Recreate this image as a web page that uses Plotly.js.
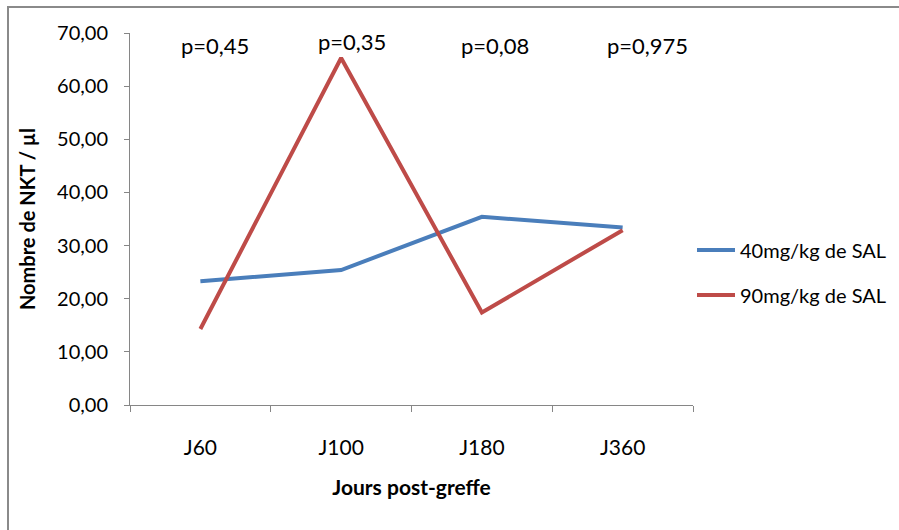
<!DOCTYPE html>
<html>
<head>
<meta charset="utf-8">
<script src="https://cdn.plot.ly/plotly-3.0.1.min.js"></script>
<style>html,body{margin:0;padding:0;background:#fff;overflow:hidden;}#chart{width:899px;height:530px;}</style>
</head>
<body>
<div id="chart"></div>
<script>
const categories = ["J60", "J100", "J180", "J360"];
const series40 = [23.3, 25.4, 35.4, 33.4];
const series90 = [14.3, 65.3, 17.4, 32.9];
const seriesNames = ["40mg/kg de SAL", "90mg/kg de SAL"];
const pLabels = ["p=0,45", "p=0,35", "p=0,08", "p=0,975"];

const FONT = "Lato, 'Open Sans', sans-serif";
const L = 130, R = 693, T = 33, B = 405;
const px2x = px => (px - L) / (R - L);
const px2y = py => (B - py) / (B - T);

const traces = [
  {x: categories, y: series40, name: seriesNames[0], type: "scatter", mode: "lines",
   line: {color: "#4a7ebb", width: 4}, legend: "legend"},
  {x: categories, y: series90, name: seriesNames[1], type: "scatter", mode: "lines",
   line: {color: "#be4b48", width: 4}, legend: "legend2"}
];

const pPos = [[215, 46], [352, 42], [495, 46], [647, 46]];
const annotations = pLabels.map((t, i) => ({
  text: t, xref: "paper", yref: "paper", x: px2x(pPos[i][0]), y: px2y(pPos[i][1]),
  xanchor: "center", yanchor: "middle", showarrow: false,
  font: {family: FONT, size: 22, color: "#000"}
}));

const legendFont = {family: FONT, size: 20, color: "#000"};

const layout = {
  width: 899, height: 530,
  margin: {l: L, r: 899 - R, t: T, b: 530 - B, autoexpand: false},
  paper_bgcolor: "#fff", plot_bgcolor: "#fff",
  separators: ", ",
  font: {family: FONT, size: 20, color: "#000"},
  xaxis: {
    type: "category", range: [-0.5, 3.5], tickson: "boundaries",
    ticks: "outside", ticklen: 6, tickcolor: "#868686", tickwidth: 1,
    showline: true, linecolor: "#868686", linewidth: 1, showgrid: false, zeroline: false,
    ticklabelstandoff: 24,
    tickfont: {family: FONT, size: 21, color: "#000"},
    title: {text: "<b>Jours post-greffe</b>", font: {family: FONT, size: 21, color: "#000"}, standoff: 22}
  },
  yaxis: {
    range: [0, 70], dtick: 10, tickformat: ".2f",
    ticks: "outside", ticklen: 5, tickcolor: "#868686", tickwidth: 1,
    showline: true, linecolor: "#868686", linewidth: 1, showgrid: false, zeroline: false,
    ticklabelstandoff: 12,
    tickfont: {family: FONT, size: 20, color: "#000"},
    title: {text: "<b>Nombre de NKT / µl</b>", font: {family: FONT, size: 20, color: "#000"}, standoff: 16}
  },
  legend: {x: px2x(692), y: px2y(250), xanchor: "left", yanchor: "middle", itemwidth: 38,
    font: legendFont, bgcolor: "rgba(0,0,0,0)", borderwidth: 0},
  legend2: {x: px2x(692), y: px2y(295), xanchor: "left", yanchor: "middle", itemwidth: 38,
    font: legendFont, bgcolor: "rgba(0,0,0,0)", borderwidth: 0},
  showlegend: true,
  annotations: annotations,
  shapes: [
    {type: "line", xref: "paper", yref: "paper", x0: px2x(8), x1: px2x(8), y0: px2y(6), y1: px2y(530),
     line: {color: "#8a8a8a", width: 2}},
    {type: "line", xref: "paper", yref: "paper", x0: px2x(7), x1: px2x(899), y0: px2y(7), y1: px2y(7),
     line: {color: "#8a8a8a", width: 2}}
  ]
};

Plotly.newPlot("chart", traces, layout, {displayModeBar: false, staticPlot: true});
</script>
</body>
</html>
